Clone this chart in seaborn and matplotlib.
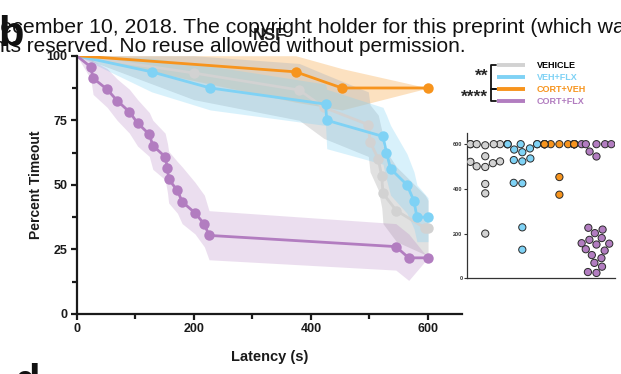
import matplotlib
matplotlib.use("Agg")
import matplotlib.pyplot as plt
from matplotlib.lines import Line2D
from matplotlib.ticker import MultipleLocator
import pandas as pd
import seaborn as sns

# ---- groups and colours -------------------------------------------------
groups = ["VEHICLE", "VEH+FLX", "CORT+VEH", "CORT+FLX"]
line_colors = ["#d2d2d2", "#7fd2f5", "#f7941d", "#b27dc0"]
label_colors = ["#000000", "#7fd2f5", "#f7941d", "#b27dc0"]
band_alpha = [0.45, 0.30, 0.28, 0.25]

# ---- survival curves (latency in s, percent still timed out) -------------
veh_t = [0, 200, 380, 422, 498, 501, 515, 521, 523, 546, 595, 600]
veh_pct = [100, 93.3, 86.7, 80.0, 73.3, 66.7, 60.0, 53.3, 46.7, 40.0, 33.3, 33.3]
veh_lo = [100, 83, 75, 68, 61, 55, 48, 41, 35, 28, 23, 23]
veh_hi = [100, 100, 97, 93, 86, 81, 77, 71, 65, 57, 46, 44]

flx_t = [0, 128, 228, 425, 427, 523, 529, 536, 564, 576, 581, 600]
flx_pct = [100, 93.75, 87.5, 81.25, 75.0, 68.75, 62.5, 56.25, 50.0, 43.75, 37.5, 37.5]
flx_lo = [100, 86, 79, 73, 64, 58, 52, 46, 39, 33, 28, 28]
flx_hi = [100, 99, 96, 89, 87, 80, 77, 73, 62, 55, 50, 45]

cort_t = [0, 374, 453, 600]
cort_pct = [100, 93.75, 87.5, 87.5]
cort_lo = [100, 82, 79, 87.5]
cort_hi = [100, 100, 95, 87.5]

cflx_t = [0, 24, 28, 52, 69, 90, 104, 124, 130, 151, 155, 157, 172, 180,
          202, 218, 226, 545, 567, 600]
cflx_pct = [100, 95.65, 91.3, 86.96, 82.61, 78.26, 73.91, 69.57, 65.22, 60.87,
            56.52, 52.17, 47.83, 43.48, 39.13, 34.78, 30.43, 26.09, 21.74, 21.74]
cflx_lo = [100, 91, 85, 80, 75, 70, 65, 61, 56, 52, 47, 43, 39, 35,
           31, 26, 21, 17, 13, 21.74]
cflx_hi = [100, 100, 98, 95, 91, 87, 83, 78, 75, 70, 66, 63, 59, 57,
           51, 46, 40, 35, 31, 21.74]

# ---- individual latencies (inset) ----------------------------------------
veh_lat = [600, 600, 600, 600, 600, 595, 546, 523, 521, 515, 501, 498, 422, 380, 200]
flx_lat = [600, 600, 600, 600, 600, 600, 581, 576, 564, 536, 529, 523, 427, 425, 228, 128]
cort_lat = [600, 600, 600, 600, 600, 600, 600, 600, 600, 600, 600, 600, 600, 600, 453, 374]
cflx_lat = [600, 600, 600, 600, 600, 567, 545, 226, 218, 202, 180, 172, 157, 155,
            151, 130, 124, 104, 90, 69, 52, 28, 24]

# ---- styling ---------------------------------------------------------------
sns.set_theme(style="ticks")
plt.rcParams["font.family"] = ["Liberation Sans", "DejaVu Sans"]
plt.rcParams["axes.linewidth"] = 1.6

W, H = 621, 374
fig = plt.figure(figsize=(W / 100, H / 100), dpi=100)


def fx(x):
    return x / W


def fy(y):
    return 1 - y / H


# ---- main Kaplan-Meier style panel ----------------------------------------
ax = fig.add_axes([fx(76.7), fy(314), fx(462 - 76.7), (314 - 55.7) / H])

curves = [
    (veh_t, veh_pct, veh_lo, veh_hi),
    (flx_t, flx_pct, flx_lo, flx_hi),
    (cort_t, cort_pct, cort_lo, cort_hi),
    (cflx_t, cflx_pct, cflx_lo, cflx_hi),
]
fill_order = [2, 0, 1, 3]
for i in fill_order:
    t, p, lo, hi = curves[i]
    ax.fill_between(t, lo, hi, color=line_colors[i] if i else "#bdbdbd",
                    alpha=band_alpha[i], lw=0)

curve_df = pd.concat(
    [pd.DataFrame({"t": c[0], "pct": c[1], "group": g}) for c, g in zip(curves, groups)],
    ignore_index=True,
)
sns.lineplot(
    data=curve_df, x="t", y="pct", hue="group", hue_order=groups,
    palette=dict(zip(groups, line_colors)), estimator=None, sort=False,
    marker="o", markersize=7.5, markeredgewidth=0, linewidth=2.0,
    markevery=slice(1, None), legend=False, ax=ax,
)

ax.set_xlim(0, 658)
ax.set_ylim(0, 100)
ax.set_xticks([0, 200, 400, 600])
ax.set_yticks([0, 25, 50, 75, 100])
ax.xaxis.set_minor_locator(MultipleLocator(100))
ax.yaxis.set_minor_locator(MultipleLocator(12.5))
ax.tick_params(which="major", direction="out", length=4.5, width=1.6,
               labelsize=9, pad=2, color="#1a1a1a")
ax.tick_params(which="minor", direction="out", length=3.5, width=1.6, color="#1a1a1a")
for lab in ax.get_xticklabels() + ax.get_yticklabels():
    lab.set_fontweight("bold")
    lab.set_color("#1a1a1a")
for s in ("top", "right"):
    ax.spines[s].set_visible(False)
for s in ("left", "bottom"):
    ax.spines[s].set_color("#1a1a1a")
ax.set_xlabel("Latency (s)", fontsize=10.5, fontweight="bold", labelpad=11, color="#1a1a1a")
ax.set_ylabel("Percent Timeout", fontsize=10, fontweight="bold", labelpad=3, color="#1a1a1a")
ax.set_title("NSF", fontsize=12, fontweight="bold", color="#222222", pad=11)

# ---- inset: individual latencies -------------------------------------------
ax2 = fig.add_axes([fx(466.7), fy(278.3), fx(615 - 466.7), (278.3 - 133) / H])
lat_df = pd.concat(
    [pd.DataFrame({"lat": v, "group": g})
     for v, g in zip([veh_lat, flx_lat, cort_lat, cflx_lat], groups)],
    ignore_index=True,
)
sns.swarmplot(
    data=lat_df, x="group", y="lat", hue="group", order=groups, hue_order=groups,
    palette=dict(zip(groups, line_colors)), size=5.2, edgecolor="#2a2a2a",
    linewidth=0.7, legend=False, ax=ax2, warn_thresh=1.0,
)
ax2.set_ylim(0, 650)
ax2.set_xlim(-0.5, 3.5)
ax2.set_yticks([0, 200, 400, 600])
ax2.set_xticks([])
ax2.set_xlabel("")
ax2.set_ylabel("")
ax2.tick_params(axis="y", direction="out", length=2, width=0.8, labelsize=4, pad=1,
                color="#333333")
for lab in ax2.get_yticklabels():
    lab.set_fontweight("bold")
    lab.set_color("#333333")
for s in ("top", "right"):
    ax2.spines[s].set_visible(False)
for s in ("left", "bottom"):
    ax2.spines[s].set_linewidth(0.9)
    ax2.spines[s].set_color("#333333")

# ---- legend with significance brackets --------------------------------------
for i, g in enumerate(groups):
    y = 65 + i * 12.1
    fig.add_artist(Line2D([fx(497), fx(525)], [fy(y), fy(y)], lw=2.8,
                          color=line_colors[i], solid_capstyle="butt"))
    fig.text(fx(537), fy(y), g, fontsize=6.5, fontweight="bold",
             color=label_colors[i], va="center", ha="left")

for y0, y1 in [(65, 89.2), (89.2, 101.3)]:
    fig.add_artist(Line2D([fx(496), fx(491), fx(491), fx(496)],
                          [fy(y0), fy(y0), fy(y1), fy(y1)], lw=1.3, color="#111111"))
fig.text(fx(488), fy(76), "**", fontsize=12.5, fontweight="bold", ha="right", va="center")
fig.text(fx(488), fy(97.5), "****", fontsize=12.5, fontweight="bold", ha="right", va="center")

# ---- panel letters and header lines ----------------------------------------
fig.text(fx(-2), fy(46), "b", fontsize=30, fontweight="bold", ha="left", va="baseline",
         color="#111111")
fig.text(fx(14), fy(394), "d", fontsize=30, fontweight="bold", ha="left", va="baseline",
         color="#111111")
fig.text(fx(-15), fy(33), "December 10, 2018. The copyright holder for this preprint (which was",
         fontsize=15.3, ha="left", va="baseline", color="#111111", zorder=10)
fig.text(fx(466), fy(52), "All rights reserved. No reuse allowed without permission.",
         fontsize=15, ha="right", va="baseline", color="#111111", zorder=10)

fig.savefig("out.png", dpi=100)
